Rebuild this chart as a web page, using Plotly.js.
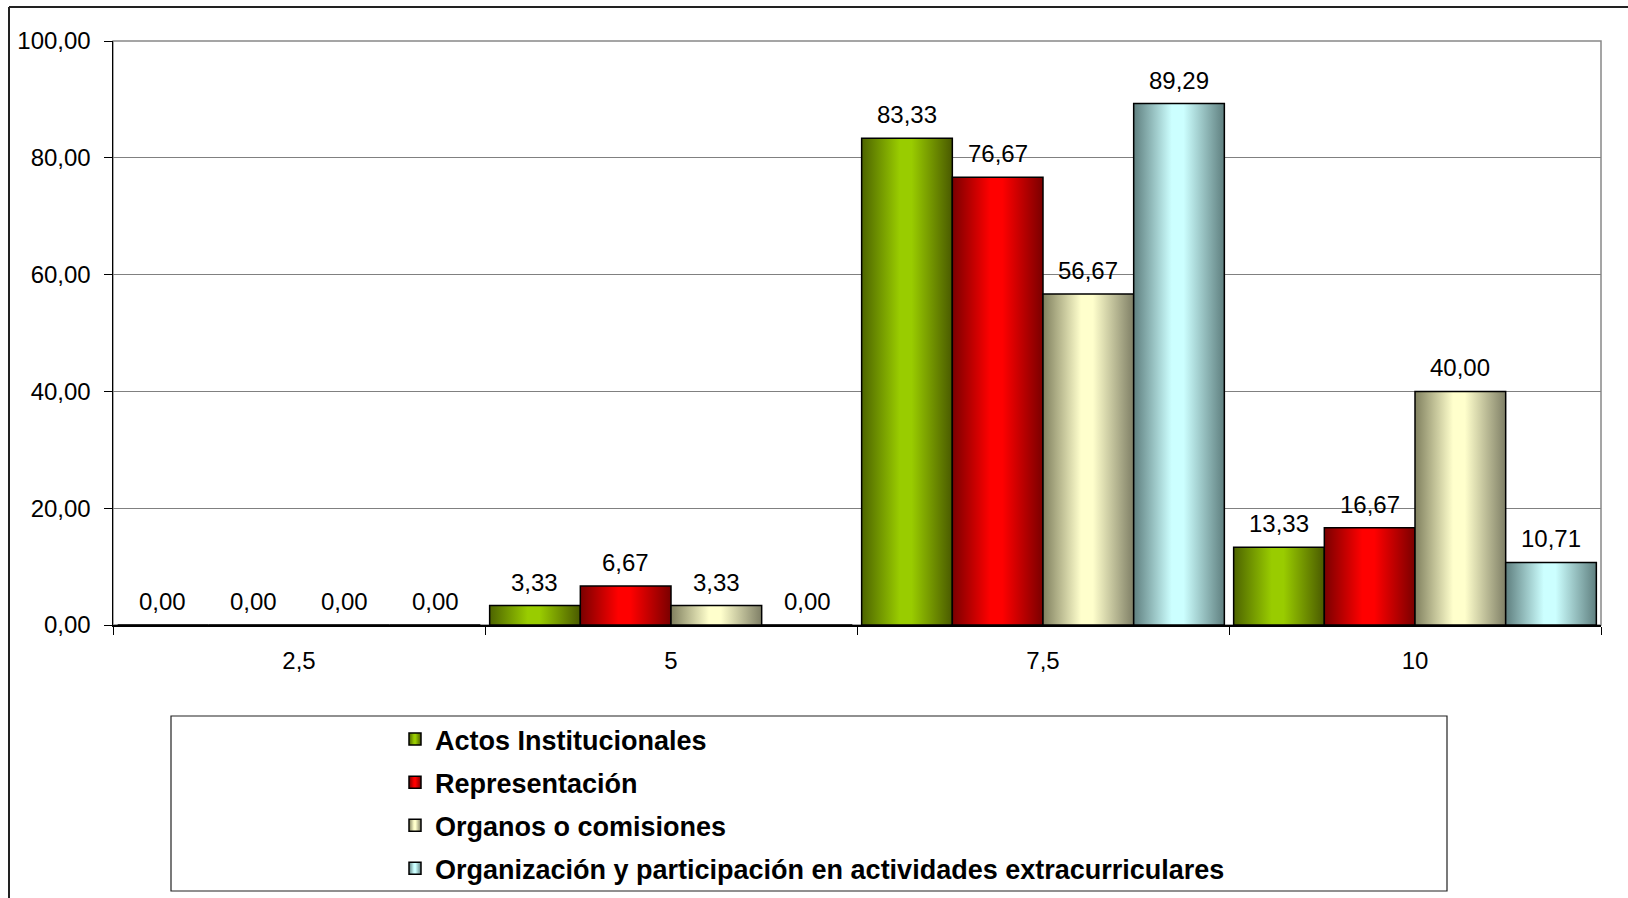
<!DOCTYPE html>
<html><head><meta charset="utf-8">
<script src="https://cdn.plot.ly/plotly-3.0.1.min.js"></script>
<style>html,body{margin:0;padding:0;background:#fff;overflow:hidden}#chart{width:1628px;height:898px}</style>
</head><body><div id="chart"></div>
<script>
const categories = ['2,5', '5', '7,5', '10'];
const actosInstitucionales = [0.00, 3.33, 83.33, 13.33];
const representacion = [0.00, 6.67, 76.67, 16.67];
const organosComisiones = [0.00, 3.33, 56.67, 40.00];
const organizacionActividades = [0.00, 0.00, 89.29, 10.71];
const seriesNames = ['Actos Institucionales', 'Representación', 'Organos o comisiones',
  'Organización y participación en actividades extracurriculares'];
const yTickValues = [0, 20, 40, 60, 80, 100];

const seriesValues = [actosInstitucionales, representacion, organosComisiones, organizacionActividades];
const baseColors = ['#99cc00', '#ff0000', '#ffffcc', '#ccffff'];
const gradients = [
  ['#4d6400', '#99cc00', '#99cc00', '#4a5a00'],
  ['#7a0000', '#ff0000', '#ff0000', '#7a0000'],
  ['#80805f', '#ffffcc', '#ffffcc', '#7f7f66'],
  ['#5f7f7f', '#ccffff', '#ccffff', '#5f7f7f']
];

const W = 1628, H = 898;
const M = {l: 113, r: 27, t: 41, b: 273, autoexpand: false};
const pw = W - M.l - M.r, ph = H - M.t - M.b;
const px = x => (x - M.l) / pw;
const py = y => (H - M.b - y) / ph;
const FONT = 'Liberation Sans, Arial, sans-serif';
const bargap = 0.025;

const traces = seriesValues.map((vals, k) => ({
  type: 'bar', x: categories, y: vals, name: seriesNames[k], legendgroup: 'g' + k,
  marker: {color: baseColors[k], line: {color: '#000', width: 1.5}},
  hoverinfo: 'skip'
}));

const annotations = [];
seriesValues.forEach((vals, k) => {
  vals.forEach((v, i) => {
    const w = (1 - bargap) / seriesValues.length;
    annotations.push({
      xref: 'x', yref: 'y', x: i - (1 - bargap) / 2 + (k + 0.5) * w, y: v,
      text: v.toFixed(2).replace('.', ','), showarrow: false,
      yanchor: 'bottom', yshift: 8, font: {family: FONT, size: 24, color: '#000'}
    });
  });
});

const shapes = [
  {type: 'rect', xref: 'paper', yref: 'paper', x0: 0, x1: 1, y0: 0, y1: 1,
   line: {color: '#888', width: 1.5}, layer: 'below'},
  {type: 'line', xref: 'paper', yref: 'paper', x0: px(9), x1: px(9), y0: py(7), y1: py(905),
   line: {color: '#222', width: 2}},
  {type: 'line', xref: 'paper', yref: 'paper', x0: px(9), x1: px(1640), y0: py(7), y1: py(7),
   line: {color: '#222', width: 2}},
  {type: 'rect', xref: 'paper', yref: 'paper', x0: px(171), x1: px(1447), y0: py(891), y1: py(716),
   line: {color: '#222', width: 1.2}}
];

const layout = {
  width: W, height: H, margin: M, paper_bgcolor: '#fff', plot_bgcolor: '#fff',
  separators: ',.', barmode: 'group', bargap: bargap, bargroupgap: 0,
  font: {family: FONT, size: 24, color: '#000'},
  xaxis: {type: 'category', tickson: 'boundaries', ticks: 'outside', ticklen: 8, tickcolor: '#000',
    showgrid: false, showline: true, linecolor: '#000', linewidth: 1.5, ticklabelstandoff: 14,
    tickfont: {family: FONT, size: 24, color: '#000'}, fixedrange: true},
  yaxis: {range: [0, 100], tickvals: yTickValues, tickformat: '.2f', ticks: 'outside', ticklen: 8,
    tickcolor: '#000', showline: true, linecolor: '#000', linewidth: 1.5, gridcolor: '#808080', gridwidth: 1,
    zeroline: false, ticklabelstandoff: 8, tickfont: {family: FONT, size: 24, color: '#000'}, fixedrange: true},
  showlegend: true,
  legend: {x: px(395), y: py(715), xanchor: 'left', yanchor: 'top',
    orientation: 'v', traceorder: 'grouped', tracegroupgap: 5, bgcolor: 'rgba(0,0,0,0)', borderwidth: 0,
    font: {family: FONT, size: 27, weight: 'bold', color: '#000'}},
  annotations: annotations, shapes: shapes
};

const gd = document.getElementById('chart');
Plotly.newPlot(gd, traces, layout, {displayModeBar: false, staticPlot: true}).then(() => {
  const defs = gd.querySelector('svg.main-svg defs');
  const NS = 'http://www.w3.org/2000/svg';
  gradients.forEach((stops, k) => {
    const lg = document.createElementNS(NS, 'linearGradient');
    lg.setAttribute('id', 'bargrad' + k);
    lg.setAttribute('x1', '0'); lg.setAttribute('y1', '0');
    lg.setAttribute('x2', '1'); lg.setAttribute('y2', '0');
    const offs = [0, 0.42, 0.55, 1];
    stops.forEach((c, j) => {
      const s = document.createElementNS(NS, 'stop');
      s.setAttribute('offset', offs[j]);
      s.setAttribute('stop-color', c);
      lg.appendChild(s);
    });
    defs.appendChild(lg);
  });
  gd.querySelectorAll('.barlayer .trace').forEach((t, k) => {
    t.querySelectorAll('path').forEach(p => { p.style.fill = 'url(#bargrad' + k + ')'; });
  });
  gd.querySelectorAll('.legend .traces').forEach((t, k) => {
    t.querySelectorAll('.legendpoints path').forEach(p => { p.style.fill = 'url(#bargrad' + k + ')'; });
  });
});
</script>
</body></html>
